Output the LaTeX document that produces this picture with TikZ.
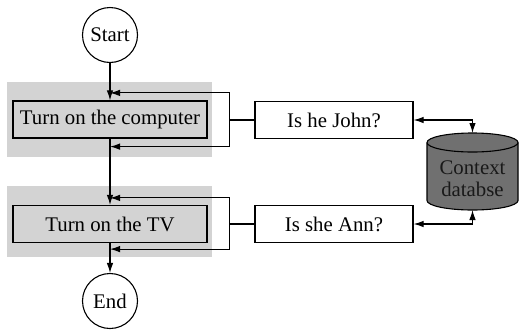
\documentclass[tikz,border=0pt]{standalone}
\usepackage{fontspec}
\setmainfont{Liberation Serif}
\usetikzlibrary{arrows.meta,calc}
\definecolor{panel}{RGB}{211,211,211}
\definecolor{dbfill}{RGB}{112,112,112}
\definecolor{dbtext}{RGB}{25,25,25}
\begin{document}
\begin{tikzpicture}[x=1pt,y=-1pt,
  every node/.style={font=\fontsize{20.8}{24}\selectfont, inner sep=0pt},
  term/.style={circle,draw,line width=1.1pt,fill=white,minimum size=55pt},
  proc/.style={rectangle,draw,line width=1.2pt,fill=panel,minimum width=194pt,minimum height=37pt},
  query/.style={rectangle,draw,line width=1.2pt,fill=white,minimum width=158pt,minimum height=37pt},
  conn/.style={line width=1.1pt,-{Latex[length=10pt,width=6.5pt]}},
  biconn/.style={line width=1.1pt,{Latex[length=10pt,width=6.5pt]}-{Latex[length=10pt,width=6.5pt]}},
  plain/.style={line width=1.1pt}]
\useasboundingbox (0,0) rectangle (519,330);
% gray panels
\fill[panel] (7,82) rectangle (212,157);
\fill[panel] (7,186) rectangle (212,257);
% nodes
\node[term] (start) at (110,35) {Start};
\node[proc] (comp) at (110,119.5) {Turn on the computer};
\node[proc] (tv) at (110,224) {Turn on the TV};
\node[term] (end) at (110,301) {End};
\node[query] (john) at (334,120) {Is he John?};
\node[query] (ann) at (334,224) {Is she Ann?};
% cylinder
\filldraw[fill=dbfill,draw=black,line width=1.1pt] (427,142.5) -- (427,200.5) arc[start angle=180,end angle=0,x radius=45.5,y radius=9.5] -- (518,142.5) arc[start angle=0,end angle=-180,x radius=45.5,y radius=9.5] -- cycle;
\draw[line width=1.1pt] (427,142.5) arc[start angle=180,end angle=0,x radius=45.5,y radius=9.5];
\node[text=dbtext, align=center, font=\fontsize{20.8}{22}\selectfont] (db) at (472.5,179) {Context\\databse};
\coordinate (dbtop) at (472.5,133);
\coordinate (dbbot) at (472.5,210);
% main flow
\draw[conn] (start) -- (comp.north);
\draw[conn] (comp.south) -- (tv.north);
\draw[conn] (tv.south) -- (end.north);
% feedback from queries
\coordinate (jc) at ($(comp.east)+(22,0)$);
\draw[plain] (john.west) -- (jc |- john.west);
\draw[conn] (jc |- john.west) |- ($(comp.north)+(0,-7.5)$);
\draw[conn] (jc |- john.west) |- ($(comp.south)+(0,8)$);
\coordinate (ac) at ($(tv.east)+(22,0)$);
\draw[plain] (ann.west) -- (ac |- ann.west);
\draw[conn] (ac |- ann.west) |- ($(tv.north)+(0,-7)$);
\draw[conn] (ac |- ann.west) |- ($(tv.south)+(0,6)$);
% database links
\draw[biconn] (john.east) -| (dbtop);
\draw[biconn] (ann.east) -| (dbbot);
\end{tikzpicture}
\end{document}
